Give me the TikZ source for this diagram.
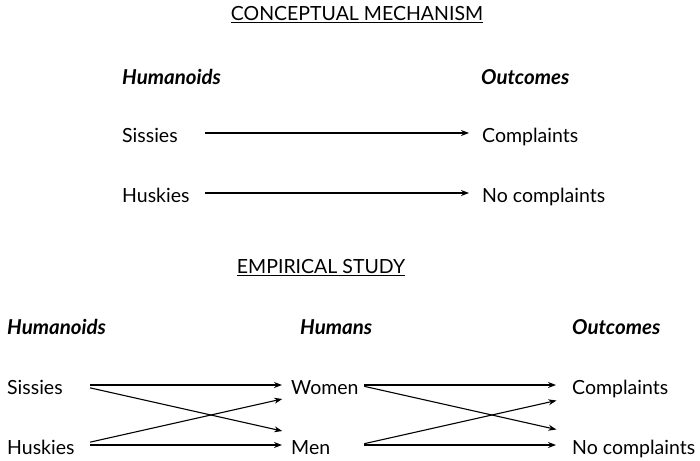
\documentclass[tikz,border=0pt]{standalone}
\usepackage{fontspec}
\setmainfont{Lato}
\usepackage{tikz}
\usetikzlibrary{arrows.meta}
\tikzset{
  item/.style={
    anchor=west,
    inner sep=0pt,
    text height=18pt,
    text depth=0pt,
    font=\fontsize{19.5}{23}\selectfont,
  },
  left item/.style={
    item,
    text width=#1,
    align=left,
  },
  heading/.style={
    item,
    font=\fontsize{20.5}{24}\selectfont\bfseries\itshape,
  },
  section title/.style={
    inner sep=0pt,
    font=\fontsize{19.5}{23}\selectfont,
  },
  main arrow/.style={
    line width=1.8pt,
    -{Stealth[length=8pt,width=6pt]},
  },
  cross arrow/.style={
    line width=1.1pt,
    -{Stealth[length=8pt,width=6pt]},
  }
}

\begin{document}
\begin{tikzpicture}[x=1pt,y=-1pt]
    \useasboundingbox (0,0) rectangle (700,460);

    \node [section title] (concept) at (357,15) {\underline{CONCEPTUAL MECHANISM}};
    \node [heading] (hum1) at (122,75) {Humanoids};
    \node [heading] (out1) at (481,75) {Outcomes};
    \node [left item=70pt] (sis1) at (122,133) {Sissies};
    \node [left item=70pt] (hus1) at (122,193) {Huskies};
    \node [item] (com1) at (482,133) {Complaints};
    \node [item] (nocom1) at (482,193) {No complaints};

    \draw [main arrow, shorten <=13pt, shorten >=13pt] (sis1.east) -- (com1.west);
    \draw [main arrow, shorten <=13pt, shorten >=13pt] (hus1.east) -- (nocom1.west);

    \node [section title] (empir) at (321,268) {\underline{EMPIRICAL STUDY}};
    \node [heading] (hum2) at (7,325) {Humanoids};
    \node [heading] (hum3) at (300,325) {Humans};
    \node [heading] (out2) at (572,325) {Outcomes};
    \node [left item=70pt] (sis2) at (7,385) {Sissies};
    \node [left item=70pt] (hus2) at (7,445) {Huskies};
    \node [left item=67pt] (wom) at (291,385) {Women};
    \node [left item=67pt] (men) at (291,445) {Men};
    \node [item] (com2) at (572,385) {Complaints};
    \node [item] (nocom2) at (572,445) {No complaints};

    \draw [main arrow, shorten <=13pt, shorten >=9pt] (sis2.east) -- (wom.west);
    \draw [main arrow, shorten <=13pt, shorten >=9pt] (hus2.east) -- (men.west);
    \draw [cross arrow, shorten <=13pt, shorten >=9pt] (sis2.east) -- ([yshift=12pt]men.west);
    \draw [cross arrow, shorten <=13pt, shorten >=9pt] (hus2.east) -- ([yshift=-12pt]wom.west);

    \draw [main arrow, shorten <=6pt, shorten >=16pt] (wom.east) -- (com2.west);
    \draw [main arrow, shorten <=6pt, shorten >=16pt] (men.east) -- (nocom2.west);
    \draw [cross arrow, shorten <=6pt, shorten >=16pt] (wom.east) -- ([yshift=12pt]nocom2.west);
    \draw [cross arrow, shorten <=6pt, shorten >=16pt] (men.east) -- ([yshift=-12pt]com2.west);
\end{tikzpicture}
\end{document}
